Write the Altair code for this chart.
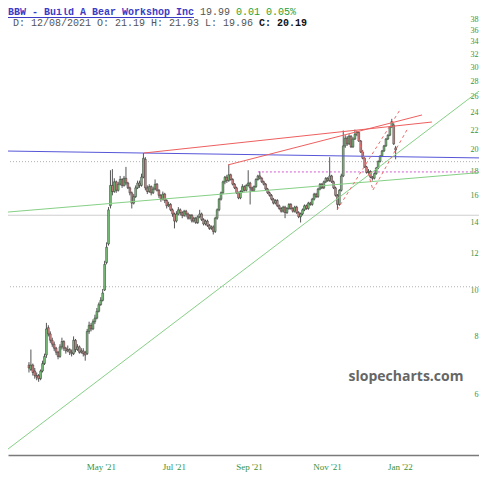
import altair as alt
import pandas as pd

# ---------------- data ----------------
opens = [6.95,6.80,6.95,6.75,6.60,6.60,6.50,6.75,7.00,7.30,
8.35,8.10,7.85,7.70,7.55,7.40,7.25,7.60,7.80,7.55,
7.45,7.50,7.40,7.35,7.85,7.50,7.60,7.40,7.45,7.40,
7.35,8.20,8.45,8.30,8.60,8.75,9.05,9.35,9.55,10.05,
11.50,12.60,15.20,16.80,16.30,17.10,16.40,16.90,17.30,16.80,
17.40,17.00,16.60,16.20,15.40,15.90,16.60,17.00,16.80,17.50,
19.10,16.60,16.30,16.70,16.20,16.50,16.90,16.40,16.00,15.70,
16.10,15.60,15.20,15.30,14.90,14.60,14.10,14.60,14.90,14.70,
14.50,14.80,14.60,14.30,14.50,14.10,14.30,14.00,14.40,14.60,
14.20,13.90,14.10,13.80,13.60,13.70,13.40,14.30,14.90,15.70,
16.20,17.10,17.50,17.20,17.70,17.30,16.90,16.60,16.20,15.80,
16.30,16.70,16.40,16.80,17.00,16.60,16.40,16.70,17.30,17.60,
17.40,17.10,16.90,16.50,16.20,16.00,15.70,15.40,15.60,15.20,
15.00,14.80,15.10,14.70,15.00,15.30,15.00,14.80,15.10,14.70,
14.40,14.60,14.90,15.20,15.00,15.40,15.30,15.70,16.10,15.90,
16.50,16.90,16.60,17.10,17.40,17.20,17.60,17.10,16.60,16.00,
15.30,16.40,17.60,20.40,21.20,20.60,21.40,20.30,21.10,21.60,
21.80,20.90,19.80,19.20,18.40,17.90,18.00,17.50,17.40,17.80,
18.30,18.90,19.40,19.90,20.40,21.10,21.50,22.40,22.60,20.20]

highs = [7.05,7.50,7.00,6.85,6.70,6.65,6.80,7.10,7.35,8.55,
8.45,8.20,7.95,7.80,7.60,7.45,7.70,7.95,7.85,7.60,
7.65,7.55,7.50,8.00,7.90,7.70,7.65,7.55,7.55,7.45,
8.30,8.60,8.55,8.70,8.90,9.20,9.45,9.70,10.10,11.60,
12.70,15.10,18.10,18.20,17.40,17.20,17.10,17.60,17.40,17.60,
18.40,17.10,16.70,16.30,16.10,16.80,17.20,17.20,17.80,19.70,
19.30,16.80,16.90,16.80,16.70,17.30,17.00,16.50,16.10,16.30,
16.20,15.70,15.50,15.40,15.00,14.70,14.80,15.10,15.00,14.80,
14.90,14.90,14.70,14.60,14.60,14.40,14.40,14.50,14.90,14.70,
14.30,14.20,14.20,13.90,13.80,13.80,14.40,15.00,15.80,16.30,
17.20,17.60,17.70,18.60,17.80,17.40,17.00,16.70,16.30,16.40,
16.90,16.80,16.90,18.10,17.10,16.70,16.80,17.40,17.70,18.00,
17.50,17.20,17.00,16.60,16.30,16.10,15.80,15.70,15.70,15.30,
15.10,15.20,15.20,15.10,15.40,15.40,15.10,15.20,15.20,14.80,
14.70,15.00,15.30,15.30,15.50,15.50,15.80,16.20,16.20,16.60,
17.00,17.00,17.20,17.50,17.50,19.30,17.70,17.20,16.70,16.10,
16.50,17.80,22.00,21.50,21.40,21.60,21.50,21.30,22.10,22.00,
21.90,21.00,20.00,19.30,18.50,18.20,18.10,17.60,17.90,18.40,
19.00,19.50,20.00,20.50,21.20,21.60,22.50,23.30,22.80,20.40]

lows = [6.70,6.75,6.60,6.50,6.45,6.40,6.45,6.70,6.95,7.20,
8.00,7.75,7.60,7.45,7.30,7.15,7.20,7.50,7.45,7.35,
7.40,7.30,7.25,7.30,7.40,7.45,7.35,7.35,7.25,7.10,
7.30,8.10,8.20,8.25,8.50,8.70,9.00,9.30,9.50,10.00,
11.40,12.50,15.00,16.00,16.20,16.20,16.30,16.80,16.60,16.70,
16.80,16.50,16.00,15.00,15.30,15.80,16.50,16.60,16.70,17.40,
16.40,16.10,16.20,16.00,16.10,16.40,16.30,15.80,15.50,15.60,
15.40,15.00,15.10,14.80,14.40,13.60,14.00,14.50,14.50,14.30,
14.40,14.40,14.20,14.20,14.00,14.00,13.90,13.90,14.30,14.10,
13.80,13.80,13.70,13.50,13.50,13.20,13.30,14.20,14.80,15.60,
16.10,16.90,17.00,17.10,17.20,16.80,16.50,16.10,15.70,15.70,
16.20,16.30,16.30,16.70,15.30,16.30,16.30,16.60,17.20,17.30,
17.00,16.80,16.40,16.10,15.90,15.60,15.30,15.30,15.10,14.90,
14.70,14.70,14.30,14.60,14.90,14.90,14.70,14.70,14.60,14.30,
14.00,14.50,14.80,14.90,14.90,15.20,15.20,15.60,15.80,15.80,
16.40,16.50,16.50,17.00,17.10,17.10,17.00,16.50,15.90,14.90,
15.20,16.30,17.50,20.20,20.40,20.50,20.20,20.20,21.00,21.40,
20.80,19.70,19.10,18.30,17.80,17.70,17.40,17.20,17.30,17.70,
18.20,18.80,19.30,19.80,20.30,21.00,21.40,22.30,20.50,19.10]

closes = [6.85,6.95,6.70,6.60,6.55,6.50,6.75,7.00,7.25,8.30,
8.10,7.85,7.70,7.55,7.40,7.25,7.60,7.80,7.55,7.45,
7.50,7.40,7.35,7.85,7.50,7.60,7.40,7.45,7.35,7.30,
8.20,8.45,8.30,8.60,8.75,9.05,9.35,9.55,9.90,11.40,
12.40,14.90,16.80,16.30,17.10,16.40,16.90,17.30,16.80,17.40,
17.00,16.60,16.20,15.40,15.90,16.60,17.00,16.80,17.50,19.20,
16.60,16.30,16.70,16.20,16.50,16.90,16.40,16.00,15.70,16.10,
15.60,15.20,15.30,14.90,14.60,14.10,14.60,14.90,14.70,14.50,
14.80,14.60,14.30,14.50,14.10,14.30,14.00,14.40,14.60,14.20,
13.90,14.10,13.80,13.60,13.70,13.40,14.30,14.90,15.70,16.20,
17.10,17.50,17.20,17.70,17.30,16.90,16.60,16.20,15.80,16.30,
16.70,16.40,16.80,17.00,16.60,16.40,16.70,17.30,17.60,17.40,
17.10,16.90,16.50,16.20,16.00,15.70,15.40,15.60,15.20,15.00,
14.80,15.10,14.70,15.00,15.30,15.00,14.80,15.10,14.70,14.40,
14.60,14.90,15.20,15.00,15.40,15.30,15.70,16.10,15.90,16.50,
16.90,16.60,17.10,17.40,17.20,17.60,17.10,16.60,16.00,15.30,
16.40,17.60,20.40,21.20,20.60,21.40,20.30,21.10,21.60,21.80,
20.90,19.80,19.20,18.40,17.90,18.00,17.50,17.40,17.80,18.30,
18.90,19.40,19.90,20.40,21.10,21.50,22.40,23.00,20.60,19.99]

bar_index = list(range(len(closes)))

# x axis: bar-index positions of the month labels
x_tick_pos = [37.1, 74.7, 113.4, 153.6, 191.2]
x_tick_labels = ["May '21", "Jul '21", "Sep '21", "Nov '21", "Jan '22"]
y_ticks = [6, 8, 10, 12, 14, 16, 18, 20, 22, 24, 26, 28, 30, 32, 34, 36, 38]

X_DOMAIN = [-10.8, 231.96]
Y_DOMAIN = [4.467, 40.17]

# drawn trendlines: [index1, price1, index2, price2]
blue_line = [-10.8, 19.89, 236.1, 19.22]
red_lines = [[59.3, 19.70, 207.7, 22.94],
             [102.6, 18.58, 202.6, 23.75]]
green_lines = [[-10.8, 4.60, 236.1, 27.52],
               [-10.8, 14.74, 236.1, 17.95]]
dashed_red_lines = [[158.8, 14.89, 191.2, 24.34],
                    [177.3, 16.43, 195.4, 22.28],
                    [169.1, 21.74, 177.3, 16.43]]

grey_dotted_levels = [18.88, 10.21]
grey_solid_levels = [14.51]
pink_level = [118.0, 236.1, 17.95]  # from index, to index, price

title_text = "BBW - Build A Bear Workshop Inc"
last_text = "19.99"
change_text = "0.01 0.05%"
ohlc_text = "D: 12/08/2021 O: 21.19 H: 21.93 L: 19.96"
close_text = "C: 20.19"
watermark = "slopecharts.com"

# ---------------- chart ----------------
df = pd.DataFrame({"i": bar_index, "open": opens, "high": highs,
                   "low": lows, "close": closes})

xs = alt.Scale(domain=X_DOMAIN, nice=False, zero=False, padding=0)
ys = alt.Scale(type="log", domain=Y_DOMAIN, nice=False, padding=0)

label_expr = '""'
for pos, lab in reversed(list(zip(x_tick_pos, x_tick_labels))):
    label_expr = f'abs(datum.value - {pos}) < 0.5 ? "{lab}" : ' + label_expr

GREEN_TXT = "#3a923a"

x_axis = alt.Axis(values=x_tick_pos, labelExpr=label_expr, grid=False,
                  ticks=False, domain=True, domainColor="#7a7a7a",
                  domainWidth=1.5, labelColor=GREEN_TXT,
                  labelFont="Liberation Serif", labelFontSize=9,
                  labelPadding=7, title=None, labelFlush=False,
                  labelOverlap=False)
y_axis = alt.Axis(orient="right", values=y_ticks, grid=False, ticks=False,
                  domain=False, labelAlign="right",
                  labelPadding=-1, labelColor=GREEN_TXT,
                  labelFont="Liberation Serif", labelFontSize=8, title=None,
                  labelOverlap=False, labelFlush=False, labelBound=False)


def X(field):
    return alt.X(field, scale=xs, axis=x_axis)


def Y(field):
    return alt.Y(field, scale=ys, axis=y_axis)


wicks = alt.Chart(df).mark_rule(color="#555555", strokeWidth=1).encode(
    x=X("i:Q"), y=Y("low:Q"), y2="high:Q",
)

bodies = alt.Chart(df).mark_bar(width=1.8, stroke="#2f2f2f",
                                strokeWidth=0.5).encode(
    x=X("i:Q"), y=Y("open:Q"), y2="close:Q",
    color=alt.condition("datum.close >= datum.open",
                        alt.value("#7cc47c"), alt.value("#d48686")),
)


def seg_df(rows):
    return pd.DataFrame(rows, columns=["x1", "y1", "x2", "y2"])


def seg_layer(rows, color, dash=None, width=1.0):
    kw = dict(color=color, strokeWidth=width, clip=True)
    if dash:
        kw["strokeDash"] = dash
    return alt.Chart(seg_df(rows)).mark_rule(**kw).encode(
        x=X("x1:Q"), y=Y("y1:Q"), x2="x2:Q", y2="y2:Q",
    )


def level_layer(levels, color, dash=None):
    kw = dict(color=color, strokeWidth=1)
    if dash:
        kw["strokeDash"] = dash
    return alt.Chart(pd.DataFrame({"level": levels})).mark_rule(**kw).encode(
        y=Y("level:Q"))


grey_dotted = level_layer(grey_dotted_levels, "#b0b0b0", [1, 2])
grey_solid = level_layer(grey_solid_levels, "#cfcfcf")
pink = alt.Chart(pd.DataFrame({"x1": [pink_level[0]], "x2": [pink_level[1]],
                               "y": [pink_level[2]]})).mark_rule(
    color="#d35ad3", strokeWidth=1, strokeDash=[2, 2], clip=True).encode(
    x=X("x1:Q"), x2="x2:Q", y=Y("y:Q"))

blue = seg_layer([blue_line], "#5656d8")
reds = seg_layer(red_lines, "#ee5f5f")
greens = seg_layer(green_lines, "#86d086")
dashed = seg_layer(dashed_red_lines, "#ee6a6a", dash=[3, 3])


def text_layer(txt, x, y, color, bold=False, font="Liberation Mono", size=10,
               align="left"):
    return alt.Chart(pd.DataFrame({"t": [txt]})).mark_text(
        align=align, baseline="middle", font=font, fontSize=size,
        fontWeight="bold" if bold else "normal", color=color).encode(
        x=alt.value(x), y=alt.value(y), text="t:N")


CW = 6.0  # monospace char width at 10px
header = [
    text_layer(title_text, 0, 4, "#3b3bc4", bold=True),
    text_layer(last_text, CW * 32, 4, "#555555"),
    text_layer(change_text, CW * 38, 4, "#2e9e2e"),
    text_layer(ohlc_text, 5, 15, "#555555"),
    text_layer(close_text, 5 + CW * 41, 15, "#111111", bold=True),
]
underline = alt.Chart(pd.DataFrame({"a": [0]})).mark_rule(
    color="#3b3bc4", strokeWidth=1).encode(
    x=alt.value(0), x2=alt.value(CW * len(title_text)), y=alt.value(9.5))

wm = text_layer(watermark, 398, 369, "#666666", bold=True, font="Open Sans",
                size=14, align="center")

chart = alt.layer(
    grey_dotted, grey_solid, pink, wicks, bodies,
    blue, reds, greens, dashed, wm, underline, *header
).properties(
    width=471, height=447,
    padding={"left": 0, "top": 0, "right": 0, "bottom": 17},
    autosize=alt.AutoSizeParams(type="none"),
).configure_view(stroke=None)

chart.save("out.html", embed_options={"renderer": "svg", "actions": False})
